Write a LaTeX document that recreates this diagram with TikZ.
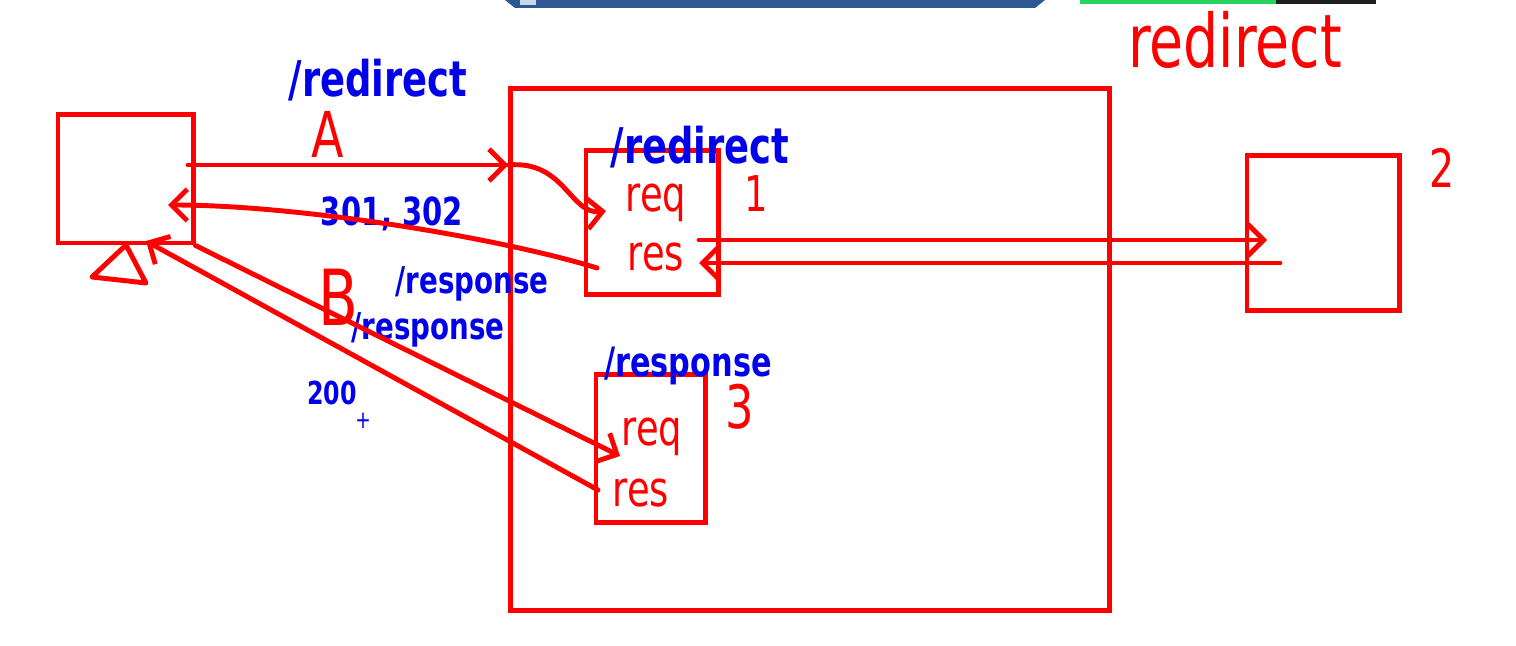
\documentclass[tikz,border=0pt]{standalone}
\usepackage{fontspec}
\setmainfont[FakeStretch=0.75]{DejaVu Sans}
\usetikzlibrary{arrows.meta}
\definecolor{penred}{RGB}{255,0,0}
\definecolor{penblue}{RGB}{0,0,235}
\definecolor{barblue}{RGB}{46,88,146}
\definecolor{barpale}{RGB}{200,215,235}
\definecolor{bargreen}{RGB}{40,210,95}
\definecolor{bardark}{RGB}{30,30,30}
\tikzset{
  box/.style={draw=penred, line width=1.4pt, inner sep=0pt},
  wire/.style={draw=penred, line width=1.4pt, line cap=round, line join=round},
  redtxt/.style={text=penred, inner sep=0pt, font=\fontsize{14}{14}\selectfont},
  bluetxt/.style={text=penblue, inner sep=0pt, font=\bfseries\fontsize{11}{11}\selectfont}
}
\begin{document}
\begin{tikzpicture}[x=0.01cm,y=-0.01cm]
  \useasboundingbox (0,0) rectangle (1516,646);
  % bars of the screen at the top
  \fill[barblue] (505,0) -- (1045,0) -- (1035,8) -- (515,8) -- cycle;
  \fill[barpale] (520,0) rectangle (536,5);
  \fill[bargreen] (1080,0) rectangle (1276,4);
  \fill[bardark] (1276,0) rectangle (1376,4);

  \draw
    (125.5,179) node[box, minimum width=1.35cm, minimum height=1.28cm] (client){}
    (810,349.5) node[box, minimum width=5.98cm, minimum height=5.21cm] (server){}
    (652,222.5) node[box, minimum width=1.32cm, minimum height=1.43cm] (hredirect){}
    (650.5,448.5) node[box, minimum width=1.09cm, minimum height=1.47cm] (hresponse){}
    (1323,233) node[box, minimum width=1.52cm, minimum height=1.54cm] (other){};
  \draw[wire] (92,277) -- (126,245) -- (146,283) -- cycle;

  \draw
    (1235,40) node[redtxt, font=\fontsize{21}{21}\selectfont] (title){redirect}
    (328,134) node[redtxt, font=\fontsize{18}{18}\selectfont] (lblA){A}
    (338,297) node[redtxt, font=\fontsize{22}{22}\selectfont] (lblB){B}
    (656,203) node[redtxt] (req1){req}
    (656,257) node[redtxt] (res1){res}
    (652,437) node[redtxt] (req3){req}
    (641,493) node[redtxt] (res3){res}
    (756,194) node[redtxt] (num1){1}
    (1442,168) node[redtxt, font=\fontsize{15}{15}\selectfont] (num2){2}
    (740,407) node[redtxt, font=\fontsize{17}{17}\selectfont] (num3){3};

  \draw
    (378,80) node[bluetxt, font=\bfseries\fontsize{14}{14}\selectfont] (pathA){/redirect}
    (700,147) node[bluetxt, font=\bfseries\fontsize{14}{14}\selectfont] (path1){/redirect}
    (392,214) node[bluetxt] (codes){301, 302}
    (472,284) node[bluetxt, font=\bfseries\fontsize{10.5}{10.5}\selectfont] (pathR){/response}
    (428,330) node[bluetxt, font=\bfseries\fontsize{10.5}{10.5}\selectfont] (pathB){/response}
    (688,366) node[bluetxt, font=\bfseries\fontsize{11.5}{11.5}\selectfont] (path3){/response}
    (332,393) node[bluetxt, font=\bfseries\fontsize{9}{9}\selectfont] (ok){200}
    (363,421) node[bluetxt, font=\fontsize{7}{7}\selectfont] (cursor){+};

  \coordinate (a0) at (188,165);
  \coordinate (a1) at (server.west |- a0);
  \coordinate (a2) at (606,211);
  \coordinate (r0) at (597,268);
  \coordinate (r1) at (168,205);
  \coordinate (f0) at (699,240);
  \coordinate (f1) at (1267,240);
  \coordinate (g0) at (1280,263);
  \coordinate (g1) at (699,263);
  \coordinate (b0) at (client.south east);
  \coordinate (b1) at (620,456);
  \coordinate (c0) at (598,490);
  \coordinate (c1) at (146,241);

  \begin{scope}[wire, -{Straight Barb[length=4.5pt,width=9pt]}]
    \draw (a0) to (a1);
    \draw (a1) .. controls (565,160) and (570,215) .. (a2);
    \draw (r0) .. controls (500,238) and (300,205) .. (r1);
    \draw (f0) to (f1);
    \draw (g0) to (g1);
    \draw (b0) to (b1);
    \draw (c0) to (c1);
  \end{scope}
\end{tikzpicture}
\end{document}
